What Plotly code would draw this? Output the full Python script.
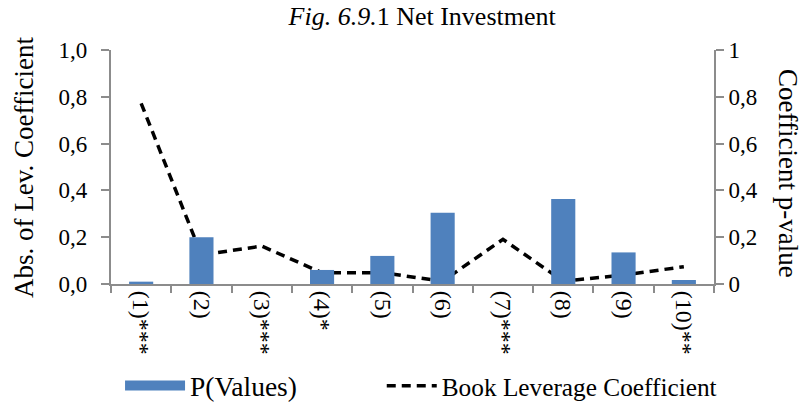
import plotly.graph_objects as go

categories = ["(1)***", "(2)", "(3)***", "(4)*", "(5)", "(6)", "(7)***", "(8)", "(9)", "(10)**"]
p_values = [0.010, 0.200, 0.0, 0.060, 0.120, 0.305, 0.0, 0.363, 0.135, 0.017]
book_leverage_coef = [0.772, 0.124, 0.162, 0.048, 0.048, 0.012, 0.191, 0.012, 0.038, 0.074]
left_ticks = [0, 0.2, 0.4, 0.6, 0.8, 1.0]
right_ticks = [0, 0.2, 0.4, 0.6, 0.8, 1]

FONT = "Liberation Serif"
AXIS_COLOR = "#8c8c8c"
BAR_COLOR = "#4F81BD"

# left tick labels with decimal comma; thin spaces keep the gap to the ticks
left_ticktext = [f"{v:.1f}".replace(".", ",") + "\u2009\u2009" for v in left_ticks]

fig = go.Figure()
fig.add_trace(go.Bar(
    x=categories, y=p_values, name="P(Values)", yaxis="y2",
    marker=dict(color=BAR_COLOR, line=dict(width=0)), showlegend=False,
    legendgroup="p",
))
# legend proxy: wide bar swatch like the reference legend
fig.add_trace(go.Scatter(
    x=[None], y=[None], name="P(Values)", mode="lines", legendgroup="p",
    line=dict(color=BAR_COLOR, width=10), legend="legend",
))
fig.add_trace(go.Scatter(
    x=categories, y=book_leverage_coef, name="Book Leverage Coefficient",
    mode="lines", line=dict(color="black", width=3.5, dash="9px,6px"),
    legend="legend2",
))

legend_common = dict(orientation="h", xref="paper", xanchor="left",
                     yref="container", y=0.05, yanchor="middle",
                     bgcolor="rgba(0,0,0,0)")

fig.update_layout(
    width=803, height=406,
    margin=dict(l=111, r=89, t=50, b=122, autoexpand=False),
    paper_bgcolor="white", plot_bgcolor="white",
    separators=",.",
    font=dict(family=FONT, size=24, color="black"),
    bargap=0.6,
    showlegend=True,
    legend=dict(x=0.015, font=dict(size=27.5), itemwidth=60, **legend_common),
    legend2=dict(x=0.449, font=dict(size=25.3), itemwidth=50, **legend_common),
    title=dict(text="<i>Fig. 6.9.</i>1 Net Investment", xref="paper", x=0.516,
               xanchor="center", yref="container", y=0.96, yanchor="middle",
               font=dict(size=26)),
    xaxis=dict(
        type="category", tickangle=90, showgrid=False, showline=True,
        linecolor=AXIS_COLOR, linewidth=2, ticks="outside", ticklen=7,
        tickcolor=AXIS_COLOR, tickwidth=2, tickson="boundaries",
        tickfont=dict(size=24), automargin=False,
    ),
    yaxis=dict(
        range=[0, 1.0], tickvals=left_ticks, ticktext=left_ticktext, showgrid=False,
        showline=True, linecolor=AXIS_COLOR, linewidth=2, ticks="outside",
        ticklen=8, tickcolor=AXIS_COLOR, tickwidth=2, zeroline=False,
        tickfont=dict(size=23), automargin=False,
    ),
    yaxis2=dict(
        range=[0, 1.0], tickvals=right_ticks, overlaying="y", side="right",
        showgrid=False, showline=True, linecolor=AXIS_COLOR, linewidth=2,
        ticks="outside", ticklen=8, tickcolor=AXIS_COLOR, tickwidth=2,
        zeroline=False, tickfont=dict(size=23), automargin=False,
    ),
    annotations=[
        dict(text="Abs. of Lev. Coefficient", textangle=-90, xref="paper",
             yref="paper", x=0.0, y=0.5, xanchor="center", yanchor="middle",
             xshift=-87, yshift=-1, showarrow=False, font=dict(size=27)),
        dict(text="Coefficient p-value", textangle=90, xref="paper", yref="paper",
             x=1.0, y=0.5, xanchor="center", yanchor="middle", xshift=74, yshift=-6,
             showarrow=False, font=dict(size=27)),
    ],
)

fig.write_html("out.html", config={"displayModeBar": False},
               post_script="document.body.style.margin='0';")
